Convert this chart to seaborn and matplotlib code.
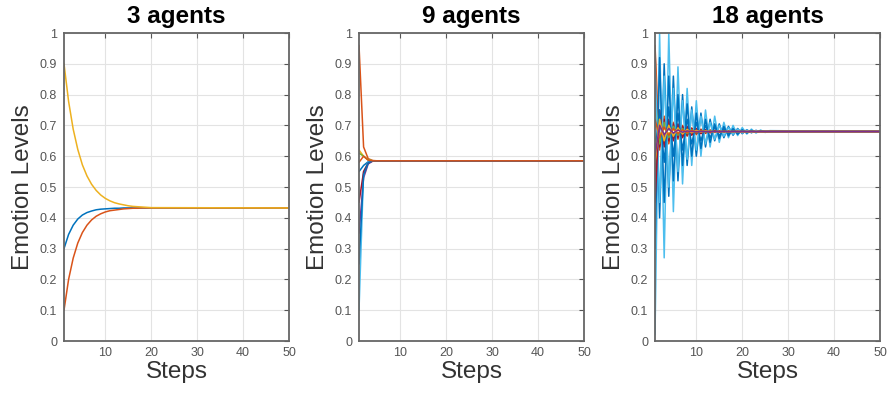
import matplotlib
matplotlib.use("Agg")
import matplotlib.pyplot as plt
import seaborn as sns
import pandas as pd

sns.set_theme(style="white")
plt.rcParams['font.family'] = ['Liberation Sans', 'DejaVu Sans']

# MATLAB default colour order
C_BLUE, C_ORANGE, C_YELLOW, C_PURPLE = "#0072BD", "#D95319", "#EDB120", "#7E2F8E"
C_GREEN, C_CYAN, C_DRED = "#77AC30", "#4DBEEE", "#A2142F"
CYCLE = [C_BLUE, C_ORANGE, C_YELLOW, C_PURPLE, C_GREEN, C_CYAN, C_DRED]

titles = ["3 agents", "9 agents", "18 agents"]
ytick_vals = [0, 0.1, 0.2, 0.3, 0.4, 0.5, 0.6, 0.7, 0.8, 0.9, 1]
ytick_labels = ["0", "0.1", "0.2", "0.3", "0.4", "0.5", "0.6", "0.7", "0.8", "0.9", "1"]
xtick_vals = [10, 20, 30, 40, 50]
xtick_labels = ["10", "20", "30", "40", "50"]

# ---- panel 1: 3 agents ----
steps_3 = [1, 2, 3, 4, 5, 6, 7, 8, 9, 10, 11, 12, 13, 14, 15, 16, 17, 18, 19, 20, 50]
agent3_1 = [0.300, 0.346, 0.376, 0.396, 0.409, 0.417, 0.422, 0.426, 0.428, 0.429, 0.430,
            0.431, 0.431, 0.432, 0.432, 0.432, 0.432, 0.432, 0.432, 0.432, 0.432]
agent3_2 = [0.100, 0.200, 0.269, 0.318, 0.352, 0.376, 0.393, 0.405, 0.413, 0.419, 0.423,
            0.425, 0.427, 0.429, 0.430, 0.431, 0.431, 0.432, 0.432, 0.432, 0.432]
agent3_3 = [0.900, 0.778, 0.688, 0.622, 0.572, 0.536, 0.509, 0.489, 0.474, 0.463, 0.455,
            0.449, 0.445, 0.442, 0.439, 0.437, 0.436, 0.435, 0.434, 0.433, 0.432]
panel3 = [agent3_1, agent3_2, agent3_3]

# ---- panel 2: 9 agents ----
steps_9 = [1, 2, 3, 4, 5, 50]
agent9_1 = [0.55, 0.570, 0.582, 0.585, 0.585, 0.585]
agent9_2 = [0.96, 0.630, 0.592, 0.586, 0.585, 0.585]
agent9_3 = [0.62, 0.600, 0.588, 0.585, 0.585, 0.585]
agent9_4 = [0.35, 0.530, 0.575, 0.584, 0.585, 0.585]
agent9_5 = [0.61, 0.600, 0.588, 0.585, 0.585, 0.585]
agent9_6 = [0.10, 0.550, 0.580, 0.585, 0.585, 0.585]
agent9_7 = [0.45, 0.550, 0.578, 0.585, 0.585, 0.585]
agent9_8 = [0.25, 0.540, 0.578, 0.585, 0.585, 0.585]
agent9_9 = [0.58, 0.600, 0.587, 0.585, 0.585, 0.585]
panel9 = [agent9_1, agent9_2, agent9_3, agent9_4, agent9_5, agent9_6, agent9_7, agent9_8, agent9_9]

# ---- panel 3: 18 agents ----
steps_18 = [1, 2, 3, 4, 5, 6, 7, 8, 9, 10, 11, 12, 13, 14, 15, 16, 17, 18, 19, 20,
            21, 22, 23, 24, 25, 26, 50]
agent18_1 = [0.95, 0.40, 0.90, 0.47, 0.86, 0.52, 0.80, 0.57, 0.76, 0.60, 0.74, 0.63, 0.72, 0.65,
             0.705, 0.66, 0.697, 0.668, 0.69, 0.673, 0.686, 0.676, 0.684, 0.678, 0.682, 0.679, 0.68]
agent18_2 = [0.96, 0.62, 0.73, 0.64, 0.71, 0.655, 0.70, 0.665, 0.692, 0.67, 0.688, 0.674, 0.685, 0.677,
             0.683, 0.678, 0.682, 0.679, 0.681, 0.68, 0.68, 0.68, 0.68, 0.68, 0.68, 0.68, 0.68]
agent18_3 = [0.75, 0.65, 0.70, 0.665, 0.692, 0.672, 0.687, 0.676, 0.684, 0.678, 0.682, 0.679, 0.681, 0.68,
             0.68, 0.68, 0.68, 0.68, 0.68, 0.68, 0.68, 0.68, 0.68, 0.68, 0.68, 0.68, 0.68]
agent18_4 = [0.50, 0.72, 0.65, 0.70, 0.665, 0.692, 0.672, 0.687, 0.676, 0.684, 0.678, 0.682, 0.679, 0.681,
             0.68, 0.68, 0.68, 0.68, 0.68, 0.68, 0.68, 0.68, 0.68, 0.68, 0.68, 0.68, 0.68]
agent18_5 = [0.65, 0.70, 0.67, 0.69, 0.673, 0.686, 0.676, 0.684, 0.678, 0.682, 0.68, 0.68, 0.68, 0.68,
             0.68, 0.68, 0.68, 0.68, 0.68, 0.68, 0.68, 0.68, 0.68, 0.68, 0.68, 0.68, 0.68]
agent18_6 = [0.02, 1.00, 0.27, 1.00, 0.42, 0.89, 0.51, 0.82, 0.57, 0.78, 0.60, 0.75, 0.63, 0.73,
             0.645, 0.71, 0.66, 0.70, 0.667, 0.693, 0.672, 0.688, 0.675, 0.685, 0.677, 0.683, 0.68]
agent18_7 = [0.85, 0.63, 0.72, 0.65, 0.705, 0.66, 0.697, 0.668, 0.69, 0.673, 0.686, 0.676, 0.684, 0.678,
             0.682, 0.679, 0.681, 0.68, 0.68, 0.68, 0.68, 0.68, 0.68, 0.68, 0.68, 0.68, 0.68]
agent18_8 = [0.30, 0.92, 0.45, 0.86, 0.52, 0.80, 0.57, 0.77, 0.60, 0.74, 0.625, 0.72, 0.645, 0.705,
             0.657, 0.697, 0.666, 0.69, 0.671, 0.686, 0.675, 0.684, 0.678, 0.682, 0.679, 0.681, 0.68]
agent18_9 = [0.55, 0.74, 0.64, 0.71, 0.655, 0.70, 0.665, 0.692, 0.67, 0.688, 0.674, 0.685, 0.677, 0.683,
             0.678, 0.682, 0.679, 0.681, 0.68, 0.68, 0.68, 0.68, 0.68, 0.68, 0.68, 0.68, 0.68]
agent18_10 = [0.70, 0.67, 0.69, 0.673, 0.686, 0.676, 0.684, 0.678, 0.682, 0.68, 0.68, 0.68, 0.68, 0.68,
              0.68, 0.68, 0.68, 0.68, 0.68, 0.68, 0.68, 0.68, 0.68, 0.68, 0.68, 0.68, 0.68]
agent18_11 = [0.62, 0.71, 0.66, 0.695, 0.668, 0.69, 0.673, 0.686, 0.676, 0.684, 0.678, 0.682, 0.68, 0.68,
              0.68, 0.68, 0.68, 0.68, 0.68, 0.68, 0.68, 0.68, 0.68, 0.68, 0.68, 0.68, 0.68]
agent18_12 = [0.80, 0.64, 0.71, 0.66, 0.697, 0.668, 0.69, 0.673, 0.686, 0.676, 0.684, 0.678, 0.682, 0.68,
              0.68, 0.68, 0.68, 0.68, 0.68, 0.68, 0.68, 0.68, 0.68, 0.68, 0.68, 0.68, 0.68]
agent18_13 = [0.90, 0.45, 0.86, 0.50, 0.82, 0.55, 0.78, 0.59, 0.75, 0.62, 0.73, 0.64, 0.71, 0.655,
              0.70, 0.665, 0.693, 0.671, 0.688, 0.675, 0.685, 0.677, 0.683, 0.679, 0.681, 0.68, 0.68]
agent18_14 = [0.45, 0.75, 0.63, 0.72, 0.65, 0.705, 0.66, 0.697, 0.668, 0.69, 0.673, 0.686, 0.676, 0.684,
              0.678, 0.682, 0.679, 0.681, 0.68, 0.68, 0.68, 0.68, 0.68, 0.68, 0.68, 0.68, 0.68]
agent18_15 = [0.60, 0.75, 0.58, 0.76, 0.60, 0.74, 0.62, 0.72, 0.64, 0.71, 0.65, 0.70, 0.66, 0.695,
              0.667, 0.69, 0.672, 0.686, 0.675, 0.684, 0.678, 0.682, 0.679, 0.681, 0.68, 0.68, 0.68]
agent18_16 = [0.72, 0.66, 0.695, 0.668, 0.69, 0.673, 0.686, 0.676, 0.684, 0.678, 0.682, 0.68, 0.68, 0.68,
              0.68, 0.68, 0.68, 0.68, 0.68, 0.68, 0.68, 0.68, 0.68, 0.68, 0.68, 0.68, 0.68]
agent18_17 = [0.58, 0.72, 0.65, 0.70, 0.665, 0.692, 0.672, 0.687, 0.676, 0.684, 0.678, 0.682, 0.68, 0.68,
              0.68, 0.68, 0.68, 0.68, 0.68, 0.68, 0.68, 0.68, 0.68, 0.68, 0.68, 0.68, 0.68]
agent18_18 = [0.60, 0.70, 0.67, 0.69, 0.675, 0.685, 0.678, 0.682, 0.68, 0.68, 0.68, 0.68, 0.68, 0.68,
              0.68, 0.68, 0.68, 0.68, 0.68, 0.68, 0.68, 0.68, 0.68, 0.68, 0.68, 0.68, 0.68]
panel18 = [agent18_1, agent18_2, agent18_3, agent18_4, agent18_5, agent18_6, agent18_7, agent18_8,
           agent18_9, agent18_10, agent18_11, agent18_12, agent18_13, agent18_14, agent18_15,
           agent18_16, agent18_17, agent18_18]

panels = [(steps_3, panel3), (steps_9, panel9), (steps_18, panel18)]


def to_long(steps, series):
    rows = []
    for i, vals in enumerate(series):
        for s, v in zip(steps, vals):
            rows.append({"step": s, "value": v, "agent": f"a{i+1:02d}"})
    return pd.DataFrame(rows)


fig = plt.figure(figsize=(8.9, 3.94), dpi=100)
lefts = [64 / 890, 359 / 890, 655 / 890]
bottom = 1 - 341 / 394
width = 225 / 890
height = 308 / 394

for k, (steps, series) in enumerate(panels):
    ax = fig.add_axes([lefts[k], bottom, width, height])
    df = to_long(steps, series)
    pal = [CYCLE[i % 7] for i in range(len(series))]
    sns.lineplot(data=df, x="step", y="value", hue="agent", palette=pal,
                 estimator=None, sort=False, legend=False, linewidth=1.1, ax=ax)
    ax.set_xlim(1, 50)
    ax.set_ylim(0, 1)
    ax.set_xticks(xtick_vals, xtick_labels)
    ax.set_yticks(ytick_vals, ytick_labels)
    ax.grid(True, color="#e3e3e3", linewidth=0.8)
    ax.set_axisbelow(True)
    ax.tick_params(direction="in", top=True, right=True, length=3.5, width=0.8,
                   colors="#555555", labelsize=9, pad=4)
    ax.tick_params(axis="y", pad=5)
    for sp in ax.spines.values():
        sp.set_color("#666666")
        sp.set_linewidth(1.3)
    ax.set_title(titles[k], fontsize=17.5, fontweight="bold", pad=7, color="black")
    ax.set_xlabel("Steps", fontsize=17.5, color="#333333", labelpad=1.5)
    ax.set_ylabel("Emotion Levels", fontsize=17.5, color="#333333", labelpad=4)

fig.savefig("out.png", dpi=100)
